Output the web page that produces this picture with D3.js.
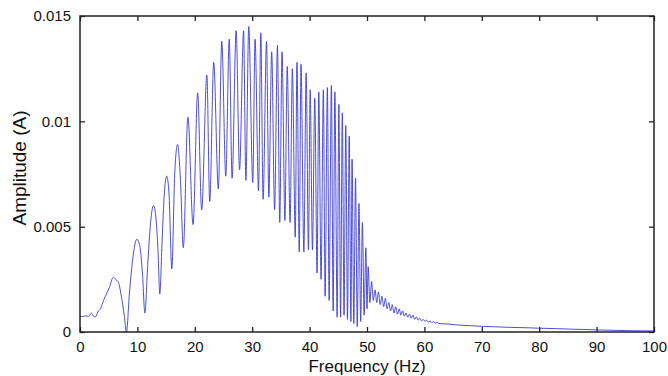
<!DOCTYPE html>
<html>
<head>
<meta charset="utf-8">
<script src="https://cdn.jsdelivr.net/npm/d3@7"></script>
<style>
  body { margin: 0; background: #fff; }
  text { font-family: "Liberation Sans", Arial, sans-serif; fill: #111; }
</style>
</head>
<body>
<script>

// frequency points (Hz) (peaks and troughs)
var freqHz = [
  0, 0.5, 1, 1.5, 2, 2.3, 2.7, 3.1, 3.6, 4.1, 4.6, 5.1, 5.8, 6.2, 6.7, 7.2, 7.7, 8.1,
  8.6, 9.2, 9.9, 10.4, 10.9, 11.3,
  11.8, 12.3, 12.8, 13.2, 13.6, 13.9,
  14.3, 14.7, 15.1, 15.5, 16.0,
  16.5, 17.0, 17.5, 18.0,
  18.8, 19.7, 20.5, 21.2, 22.1, 22.6, 23.3, 24.1, 24.7, 25.4,
  26.0, 26.5, 27.2, 27.8, 28.5, 28.9, 29.4, 30.1, 30.5, 31.1,
  31.5, 31.9, 32.5, 32.9, 33.4, 33.9, 34.4, 34.8, 35.2, 35.7,
  36.1, 36.6, 37.0, 37.5, 37.8, 38.2, 38.5, 39.0, 39.4, 39.8,
  40.1, 40.5, 40.9, 41.3, 41.6, 42.0, 42.4, 42.7, 43.1, 43.4,
  43.8, 44.1, 44.4, 44.8, 45.1, 45.4, 45.7, 46.0, 46.3, 46.6,
  46.9, 47.2, 47.4, 47.7, 48.0, 48.3, 48.6, 48.9, 49.2, 49.5,
  49.8, 50.0, 50.2, 50.5, 50.8, 51.1, 51.4, 51.7,
  52.0, 52.3, 52.6, 52.9, 53.2, 53.5, 53.8, 54.1, 54.4, 54.7,
  55.0, 55.3, 55.6, 55.9, 56.2, 56.5, 56.8, 57.1, 57.4, 57.7,
  58.0, 58.3, 58.6, 58.9, 59.2, 59.5, 59.8, 60.1, 60.4, 60.7,
  61.0, 61.3, 61.6, 61.9, 62.2, 62.5,
  64, 66, 68, 70, 72, 75, 78, 80, 83, 86, 88, 90, 93, 96, 100
];

// amplitude (A) at each frequency point
var amplitudeA = [
  0.00075, 0.00073, 0.00077, 0.00074, 0.0009, 0.00076, 0.00072, 0.00095, 0.00112, 0.0015, 0.0018, 0.0021, 0.0026, 0.0025, 0.00235, 0.0017, 0.0008, 0.0,
  0.0018, 0.0035, 0.0044, 0.0041, 0.0027, 0.0009,
  0.0032, 0.0052, 0.0060, 0.0055, 0.0038, 0.0018,
  0.0043, 0.0066, 0.0074, 0.0066, 0.0030,
  0.0075, 0.0089, 0.0072, 0.0040,
  0.0102, 0.0051, 0.01135, 0.0058, 0.0122, 0.0062, 0.0128, 0.0068, 0.0138, 0.0074,
  0.0139, 0.0073, 0.0143, 0.0077, 0.0143, 0.0072, 0.0145, 0.0071, 0.0139, 0.0067,
  0.0142, 0.0063, 0.0138, 0.0064, 0.0133, 0.0058, 0.0136, 0.0052, 0.0133, 0.0053,
  0.0126, 0.0052, 0.0125, 0.0045, 0.0128, 0.0038, 0.0127, 0.0038, 0.0123, 0.0039,
  0.0115, 0.0039, 0.0111, 0.0028, 0.0114, 0.0025, 0.0115, 0.0017, 0.0116, 0.0015,
  0.0117, 0.0010, 0.0114, 0.0007, 0.0108, 0.0007, 0.0104, 0.0008, 0.0098, 0.0006,
  0.0093, 0.0005, 0.0082, 0.0004, 0.0073, 0.00025, 0.0061, 0.0005, 0.0052, 0.0008,
  0.0040, 0.0011, 0.0031, 0.0014, 0.0024, 0.0015, 0.0020, 0.0014,
  0.0019, 0.0013, 0.0017, 0.0012, 0.0016, 0.0011, 0.0014, 0.0010, 0.0013, 0.0009,
  0.0012, 0.00085, 0.0011, 0.0008, 0.0010, 0.00075, 0.0009, 0.0007, 0.00085, 0.00065,
  0.0008, 0.0006, 0.00072, 0.00056, 0.00066, 0.00053, 0.0006, 0.0005, 0.00056, 0.00047,
  0.00052, 0.00045, 0.00049, 0.00042, 0.00046, 0.0004,
  0.00038, 0.00033, 0.0003, 0.00027, 0.00025, 0.00022, 0.0002, 0.00018, 0.00016, 0.00013, 0.00012, 0.0001, 0.00008, 0.00006, 0.00005
];

// tick values and labels
var xTicks = [0, 10, 20, 30, 40, 50, 60, 70, 80, 90, 100];
var yTicks = [0, 0.005, 0.01, 0.015];
var yTickLabels = ["0", "0.005", "0.01", "0.015"];

function drawSpectrum(){

  var svgWidth = 668, svgHeight = 376;
  var margin = { top: 16, right: 14, bottom: 44, left: 80 };
  var width = svgWidth - margin.left - margin.right;
  var height = svgHeight - margin.top - margin.bottom;
  var tickLen = 5;

  var svg = d3.select("body")
              .append("svg")
              .attr("width", svgWidth)
              .attr("height", svgHeight)
              .append("g")
              .attr("transform", "translate(" + margin.left + "," + margin.top + ")");

  // scales
  var xScale = d3.scaleLinear()
      .domain([0, 100])
      .range([0, width]);

  var yScale = d3.scaleLinear()
      .domain([0, 0.015])
      .range([height, 0]);

  // combine the two arrays into points
  var points = freqHz.map(function(f, i){
    return [f, amplitudeA[i]];
  });

  // the spectrum line, clipped to the plot box
  svg.append("clipPath")
      .attr("id", "plotclip")
      .append("rect")
      .attr("width", width)
      .attr("height", height + 1);

  var line = d3.line()
      .x(function(d) { return xScale(d[0]); })
      .y(function(d) { return yScale(d[1]); })
      .curve(d3.curveMonotoneX);

  svg.append("path")
      .datum(points)
      .attr("clip-path", "url(#plotclip)")
      .attr("d", line)
      .attr("fill", "none")
      .attr("stroke", "#3a3ad2")
      .attr("stroke-width", 0.9);

  // bottom axis, ticks pointing inward
  svg.append("g")
      .attr("transform", "translate(0," + height + ")")
      .call(d3.axisBottom(xScale).tickValues(xTicks).tickSizeInner(-tickLen).tickSizeOuter(0).tickPadding(9));

  // left axis, ticks pointing inward
  svg.append("g")
      .call(d3.axisLeft(yScale).tickValues(yTicks)
        .tickFormat(function(d, i){ return yTickLabels[i]; })
        .tickSizeInner(-tickLen).tickSizeOuter(0).tickPadding(9));

  // top and right axes mirror the ticks, no labels
  svg.append("g")
      .call(d3.axisTop(xScale).tickValues(xTicks).tickSizeInner(-tickLen).tickSizeOuter(0).tickFormat(""));

  svg.append("g")
      .attr("transform", "translate(" + width + ",0)")
      .call(d3.axisRight(yScale).tickValues(yTicks).tickSizeInner(-tickLen).tickSizeOuter(0).tickFormat(""));

  svg.selectAll(".domain").remove();
  svg.selectAll(".tick line").attr("stroke", "#222").attr("stroke-width", 1.3);
  svg.selectAll(".tick text")
      .style("font-size", "15px")
      .style("font-family", "'Liberation Sans', Arial, sans-serif")
      .attr("fill", "#111");

  // the box around the plot
  svg.append("rect")
      .attr("x", 0)
      .attr("y", 0)
      .attr("width", width)
      .attr("height", height)
      .attr("fill", "none")
      .attr("stroke", "#222")
      .attr("stroke-width", 1.5);

  // x axis label
  svg.append("text")
      .attr("x", width / 2)
      .attr("y", height + 40)
      .style("text-anchor", "middle")
      .style("font-size", "17px")
      .text("Frequency (Hz)");

  // y axis label
  svg.append("text")
      .attr("transform", "rotate(-90)")
      .attr("x", -(height / 2) + 6)
      .attr("y", 26 - margin.left)
      .style("text-anchor", "middle")
      .style("font-size", "19px")
      .text("Amplitude (A)");
}

window.onload = function() {
  drawSpectrum();
};
</script>
</body>
</html>
